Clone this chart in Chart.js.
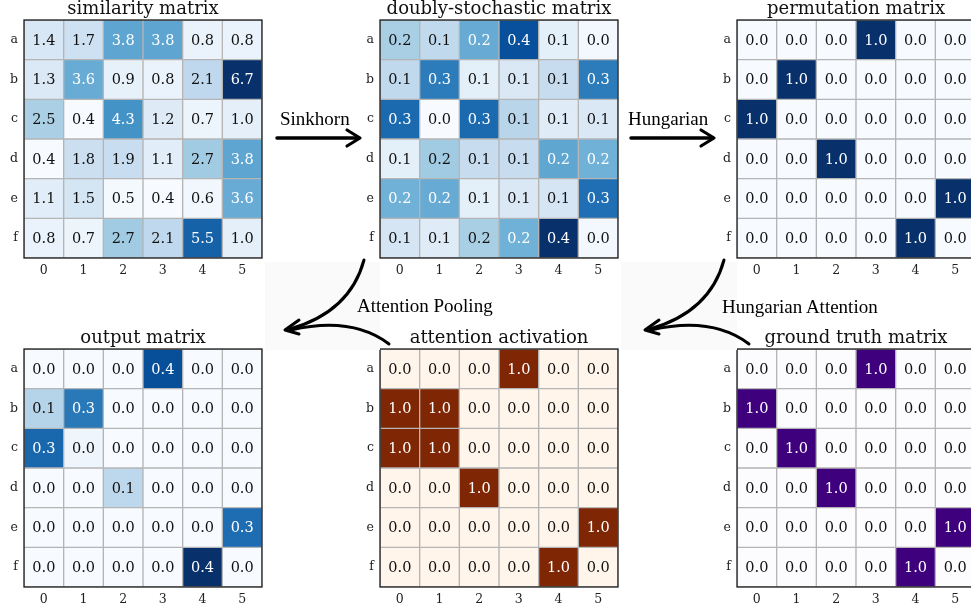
<!DOCTYPE html>
<html>
<head>
<meta charset="utf-8">
<script src="https://cdn.jsdelivr.net/npm/chart.js@4.4.1/dist/chart.umd.min.js"></script>
<style>
  html, body { margin: 0; padding: 0; background: #fff; }
  body { width: 971px; height: 609px; overflow: hidden; position: relative; }
  .panel { position: absolute; }
  .panel canvas { display: block; }
  #overlay { position: absolute; left: 0; top: 0; pointer-events: none; }
</style>
</head>
<body>

<div class="panel" id="p1"><canvas id="c1" width="264" height="282"></canvas></div>
<div class="panel" id="p2"><canvas id="c2" width="264" height="282"></canvas></div>
<div class="panel" id="p3"><canvas id="c3" width="264" height="282"></canvas></div>
<div class="panel" id="p4"><canvas id="c4" width="264" height="282"></canvas></div>
<div class="panel" id="p5"><canvas id="c5" width="264" height="282"></canvas></div>
<div class="panel" id="p6"><canvas id="c6" width="264" height="282"></canvas></div>

<svg id="overlay" width="971" height="609" xmlns="http://www.w3.org/2000/svg">
  <rect x="265" y="262" width="115" height="88" fill="#fafafa"/>
  <rect x="621" y="262" width="116" height="88" fill="#fafafa"/>
  <g stroke="#000" fill="none" stroke-linecap="round" stroke-linejoin="round">
    <!-- straight arrows between the top panels -->
    <path d="M277,138 L358,138" stroke-width="3.5"/>
    <path d="M347,130 L360,138 L347,146" stroke-width="3.2"/>
    <path d="M631,138 L712,138" stroke-width="3.5"/>
    <path d="M701,130 L714,138 L701,146" stroke-width="3.2"/>
    <!-- curved arrows down to the bottom row -->
    <g id="curl" stroke-width="3">
      <path d="M364,260 Q350,312 290,329"/>
      <path d="M389,344 Q352,316 291,330"/>
      <path d="M299,320 L285,330 L299,334"/>
    </g>
    <use href="#curl" x="360" y="0"/>
  </g>
  <g font-family="'Liberation Serif', 'Times New Roman', serif" font-size="19" fill="#000">
    <text x="280" y="125">Sinkhorn</text>
    <text x="628" y="125">Hungarian</text>
    <text x="357" y="312">Attention Pooling</text>
    <text x="722" y="313">Hungarian Attention</text>
  </g>
</svg>

<script>
// ---- data ----
const ROW_LABELS = ['a', 'b', 'c', 'd', 'e', 'f'];
const COL_LABELS = ['0', '1', '2', '3', '4', '5'];

const SIMILARITY = [
  [1.4, 1.7, 3.8, 3.8, 0.8, 0.8],
  [1.3, 3.6, 0.9, 0.8, 2.1, 6.7],
  [2.5, 0.4, 4.3, 1.2, 0.7, 1.0],
  [0.4, 1.8, 1.9, 1.1, 2.7, 3.8],
  [1.1, 1.5, 0.5, 0.4, 0.6, 3.6],
  [0.8, 0.7, 2.7, 2.1, 5.5, 1.0]
];

const DOUBLY_STOCHASTIC = [
  [0.16, 0.13, 0.23, 0.38, 0.06, 0.03],
  [0.13, 0.31, 0.06, 0.08, 0.12, 0.31],
  [0.34, 0.02, 0.34, 0.14, 0.07, 0.08],
  [0.06, 0.17, 0.12, 0.12, 0.24, 0.22],
  [0.22, 0.23, 0.06, 0.08, 0.09, 0.33],
  [0.09, 0.07, 0.16, 0.22, 0.43, 0.03]
];

const PERMUTATION = [
  [0, 0, 0, 1, 0, 0],
  [0, 1, 0, 0, 0, 0],
  [1, 0, 0, 0, 0, 0],
  [0, 0, 1, 0, 0, 0],
  [0, 0, 0, 0, 0, 1],
  [0, 0, 0, 0, 1, 0]
];

const OUTPUT = [
  [0, 0, 0, 0.38, 0, 0],
  [0.13, 0.31, 0, 0, 0, 0],
  [0.34, 0.02, 0, 0, 0, 0],
  [0, 0, 0.12, 0, 0, 0],
  [0, 0, 0, 0, 0, 0.33],
  [0, 0, 0, 0, 0.43, 0]
];

const ACTIVATION = [
  [0, 0, 0, 1, 0, 0],
  [1, 1, 0, 0, 0, 0],
  [1, 1, 0, 0, 0, 0],
  [0, 0, 1, 0, 0, 0],
  [0, 0, 0, 0, 0, 1],
  [0, 0, 0, 0, 1, 0]
];

const GROUND_TRUTH = [
  [0, 0, 0, 1, 0, 0],
  [1, 0, 0, 0, 0, 0],
  [0, 1, 0, 0, 0, 0],
  [0, 0, 1, 0, 0, 0],
  [0, 0, 0, 0, 0, 1],
  [0, 0, 0, 0, 1, 0]
];

// ---- colour maps (sequential, light to dark) ----
const BLUES = ['#f7fbff', '#deebf7', '#c6dbef', '#9ecae1', '#6baed6', '#4292c6', '#2171b5', '#08519c', '#08306b'];
const ORANGES = ['#fff5eb', '#fee6ce', '#fdd0a2', '#fdae6b', '#fd8d3c', '#f16913', '#d94801', '#a63603', '#7f2704'];
const PURPLES = ['#fcfbfd', '#efedf5', '#dadaeb', '#bcbddc', '#9e9ac8', '#807dba', '#6a51a3', '#54278f', '#3f007d'];

function hexToRgb(h) {
  return [parseInt(h.slice(1, 3), 16), parseInt(h.slice(3, 5), 16), parseInt(h.slice(5, 7), 16)];
}

function sample(cmap, t) {
  t = Math.max(0, Math.min(1, t));
  const pos = t * (cmap.length - 1);
  const i = Math.min(Math.floor(pos), cmap.length - 2);
  const f = pos - i;
  const a = hexToRgb(cmap[i]), b = hexToRgb(cmap[i + 1]);
  const c = a.map((v, k) => Math.round(v + (b[k] - v) * f));
  return `rgb(${c[0]},${c[1]},${c[2]})`;
}

const SERIF = "'DejaVu Serif', 'Liberation Serif', serif";

// value labels inside each cell, plus the black frame round the plot
const cellPlugin = {
  id: 'cellText',
  afterDatasetsDraw(chart) {
    const cfg = chart.options.plugins.cellText;
    const ctx = chart.ctx;
    ctx.save();
    ctx.font = `14.5px ${SERIF}`;
    ctx.textAlign = 'center';
    ctx.textBaseline = 'middle';
    chart.data.datasets.forEach((ds, i) => {
      const meta = chart.getDatasetMeta(i);
      meta.data.forEach((bar, j) => {
        const v = cfg.values[i][j];
        const t = (v - cfg.vmin) / (cfg.vmax - cfg.vmin);
        ctx.fillStyle = t > 0.45 ? '#ffffff' : '#111111';
        ctx.fillText(v.toFixed(1), bar.x, (bar.y + bar.base) / 2 + 1);
      });
    });
    ctx.restore();
  },
  afterDraw(chart) {
    const a = chart.chartArea;
    const ctx = chart.ctx;
    ctx.save();
    ctx.strokeStyle = '#1a1a1a';
    ctx.lineWidth = 1.3;
    ctx.strokeRect(a.left, a.top, a.right - a.left, a.bottom - a.top);
    ctx.restore();
  }
};

function heatmap(canvasId, panelId, left, top, title, values, cmap, vmin, vmax) {
  const panel = document.getElementById(panelId);
  panel.style.left = (left - 24) + 'px';
  panel.style.top = (top - 20) + 'px';

  const datasets = ROW_LABELS.map((r, i) => ({
    label: r,
    data: COL_LABELS.map(() => [i, i + 1]),
    backgroundColor: values[i].map(v => sample(cmap, (v - vmin) / (vmax - vmin))),
    borderColor: '#b5b5b5',
    borderWidth: 1,
    borderSkipped: false,
    grouped: false,
    barPercentage: 1,
    categoryPercentage: 1
  }));

  return new Chart(document.getElementById(canvasId), {
    type: 'bar',
    data: { labels: COL_LABELS, datasets },
    plugins: [cellPlugin],
    options: {
      responsive: false,
      animation: false,
      events: [],
      layout: { padding: { left: 0, right: 2, top: 0, bottom: 0 } },
      scales: {
        x: {
          type: 'category',
          grid: { display: false, drawTicks: false },
          border: { display: false },
          ticks: { font: { family: SERIF, size: 12.5 }, color: '#222', padding: 5, maxRotation: 0 },
          afterFit(s) { s.height = 24; }
        },
        y: {
          type: 'linear',
          min: 0,
          max: ROW_LABELS.length,
          reverse: true,
          grid: { display: false, drawTicks: false },
          border: { display: false },
          afterBuildTicks(s) { s.ticks = ROW_LABELS.map((_, i) => ({ value: i + 0.5 })); },
          ticks: {
            font: { family: SERIF, size: 12.5 },
            color: '#222',
            padding: 6,
            callback: (v, idx) => ROW_LABELS[idx]
          },
          afterFit(s) { s.width = 24; }
        }
      },
      plugins: {
        legend: { display: false },
        tooltip: { enabled: false },
        title: {
          display: true,
          text: title,
          fullSize: false,
          color: '#111',
          font: { family: SERIF, size: 18, weight: 'normal', lineHeight: 1 },
          padding: { top: 0, bottom: 2 }
        },
        cellText: { values, vmin, vmax }
      }
    }
  });
}

heatmap('c1', 'p1', 24, 20, 'similarity matrix', SIMILARITY, BLUES, 0.4, 6.7);
heatmap('c2', 'p2', 380, 20, 'doubly-stochastic matrix', DOUBLY_STOCHASTIC, BLUES, 0.02, 0.43);
heatmap('c3', 'p3', 737, 20, 'permutation matrix', PERMUTATION, BLUES, 0, 1);
heatmap('c4', 'p4', 24, 349, 'output matrix', OUTPUT, BLUES, 0, 0.43);
heatmap('c5', 'p5', 380, 349, 'attention activation', ACTIVATION, ORANGES, 0, 1);
heatmap('c6', 'p6', 737, 349, 'ground truth matrix', GROUND_TRUTH, PURPLES, 0, 1);
</script>
</body>
</html>
